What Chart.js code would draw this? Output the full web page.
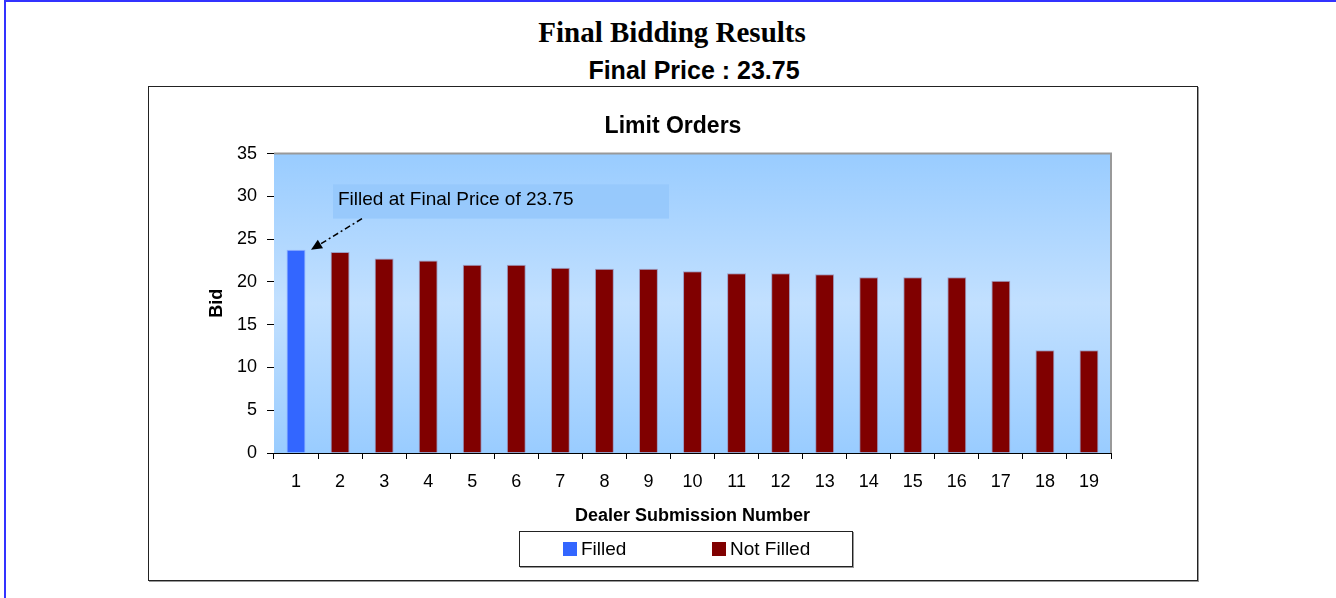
<!DOCTYPE html>
<html>
<head>
<meta charset="utf-8">
<script src="https://cdn.jsdelivr.net/npm/chart.js@4.4.1/dist/chart.umd.min.js"></script>
<style>
  body { margin: 0; background: #fff; width: 1336px; height: 598px; overflow: hidden; position: relative; font-family: "Liberation Sans", Arial, sans-serif; }
  .page-frame { position: absolute; left: 4px; top: 0; width: 1400px; height: 700px; border-top: 2px solid #3333ff; border-left: 2px solid #3333ff; }
  .page-title { position: absolute; left: 672px; top: 18px; transform: translateX(-50%); white-space: nowrap;
    font: bold 29px/29px "Liberation Serif", "Times New Roman", serif; color: #000; }
  .page-subtitle { position: absolute; left: 694px; top: 58px; transform: translateX(-50%); white-space: nowrap;
    font: bold 25px/25px "Liberation Sans", Arial, sans-serif; color: #000; }
  .chart-box { position: absolute; left: 148px; top: 86px; width: 1048px; height: 493px; border: 1px solid #222; box-shadow: 1px 1px 0 #999; }
  .chart-box canvas { display: block; }
  .legend { position: absolute; left: 519px; top: 531px; width: 332px; height: 34px; border: 1px solid #222; box-shadow: 1px 1px 0 #999; background: #fff; }
  .legend-item { position: absolute; top: 0; height: 34px; line-height: 34px; font-size: 19px; color: #000; white-space: nowrap; }
  .legend-item span { display: inline-block; width: 14px; height: 14px; margin-right: 4px; vertical-align: -1px; }
</style>
</head>
<body>
<div class="page-frame"></div>
<div class="page-title">Final Bidding Results</div>
<div class="page-subtitle">Final Price : 23.75</div>
<div class="chart-box"><canvas id="bids" width="1048" height="493"></canvas></div>
<div class="legend" id="legend"></div>

<script>
// dealer submissions, sorted by bid
const submissions = ['1', '2', '3', '4', '5', '6', '7', '8', '9', '10',
                     '11', '12', '13', '14', '15', '16', '17', '18', '19'];
const bids = [23.75, 23.5, 22.75, 22.5, 22, 22, 21.65, 21.55, 21.55, 21.25,
              21, 21, 20.9, 20.55, 20.55, 20.55, 20.15, 12, 12];
const filledCount = 1;
const finalPrice = 23.75;
const yTicks = [0, 5, 10, 15, 20, 25, 30, 35];
const note = 'Filled at Final Price of 23.75';

const filledBids = bids.map((v, i) => (i < filledCount ? v : null));
const notFilledBids = bids.map((v, i) => (i < filledCount ? null : v));

const FONT = '"Liberation Sans", Arial, sans-serif';

// plot background: light blue band in the middle
const plotBackground = {
    id: 'plotBackground',
    beforeDatasetsDraw(chart) {
        const { ctx, chartArea: a } = chart;
        const g = ctx.createLinearGradient(0, a.top, 0, a.bottom);
        g.addColorStop(0, '#99ccff');
        g.addColorStop(0.5, '#c2e0ff');
        g.addColorStop(1, '#99ccff');
        ctx.save();
        ctx.fillStyle = g;
        ctx.fillRect(a.left, a.top, a.right - a.left, a.bottom - a.top);
        ctx.restore();
    },
    afterDraw(chart) {
        const { ctx, chartArea: a } = chart;
        ctx.save();
        ctx.strokeStyle = '#999';
        ctx.lineWidth = 2;
        ctx.beginPath();
        ctx.moveTo(a.left, a.top);
        ctx.lineTo(a.right, a.top);
        ctx.lineTo(a.right, a.bottom);
        ctx.stroke();
        ctx.restore();
    }
};

// callout box + dashed arrow pointing at the filled bar
const filledNote = {
    id: 'filledNote',
    afterDatasetsDraw(chart) {
        const { ctx, chartArea: a } = chart;
        const x = chart.scales.x, y = chart.scales.y;
        const boxL = a.left + 59, boxT = y.getPixelForValue(31.4), boxR = a.left + 395, boxB = y.getPixelForValue(27.4);
        ctx.save();
        ctx.fillStyle = 'rgba(150,200,252,0.9)';
        ctx.fillRect(boxL, boxT, boxR - boxL, boxB - boxT);
        ctx.fillStyle = '#000';
        ctx.font = '19px ' + FONT;
        ctx.textBaseline = 'middle';
        ctx.fillText(note, boxL + 5, (boxT + boxB) / 2 - 2);

        const tipX = x.getPixelForValue(0) + 15, tipY = y.getPixelForValue(finalPrice);
        const tailX = boxL + 29, tailY = boxB;
        const ang = Math.atan2(tipY - tailY, tipX - tailX);
        const len = 11, half = 5;
        const baseX = tipX - len * Math.cos(ang), baseY = tipY - len * Math.sin(ang);
        ctx.strokeStyle = '#000';
        ctx.lineWidth = 1.5;
        ctx.setLineDash([6, 3, 2, 3]);
        ctx.beginPath();
        ctx.moveTo(tailX, tailY);
        ctx.lineTo(baseX, baseY);
        ctx.stroke();
        ctx.setLineDash([]);
        ctx.beginPath();
        ctx.moveTo(tipX, tipY);
        ctx.lineTo(baseX + half * Math.sin(ang), baseY - half * Math.cos(ang));
        ctx.lineTo(baseX - half * Math.sin(ang), baseY + half * Math.cos(ang));
        ctx.closePath();
        ctx.fill();
        ctx.restore();
    }
};

const chart = new Chart(document.getElementById('bids'), {
    type: 'bar',
    data: {
        labels: submissions,
        datasets: [{
            label: 'Filled',
            data: filledBids,
            backgroundColor: '#3366ff',
            borderColor: 'rgba(140,170,255,0.9)',
            borderWidth: 1
        }, {
            label: 'Not Filled',
            data: notFilledBids,
            backgroundColor: '#800000',
            borderColor: 'rgba(150,140,180,0.8)',
            borderWidth: 1
        }]
    },
    options: {
        responsive: false,
        animation: false,
        devicePixelRatio: 1,
        categoryPercentage: 1,
        barPercentage: 0.43,
        layout: { padding: { left: 0, right: 0, top: 0, bottom: 50 } },
        plugins: {
            legend: { display: false },
            tooltip: { enabled: false },
            title: {
                display: true,
                text: 'Limit Orders',
                color: '#000',
                font: { family: FONT, size: 23, weight: 'bold' },
                padding: { top: 26, bottom: 13 }
            }
        },
        scales: {
            x: {
                stacked: true,
                grid: { drawOnChartArea: false, tickLength: 6, color: '#000', offset: true },
                border: { color: '#000', width: 1 },
                ticks: { color: '#000', font: { family: FONT, size: 18 }, padding: 12, maxRotation: 0 },
                title: {
                    display: true,
                    text: 'Dealer Submission Number',
                    color: '#000',
                    font: { family: FONT, size: 18, weight: 'bold' },
                    padding: { top: 4, bottom: 3 }
                },
                afterFit(scale) { scale.height = 77; }
            },
            y: {
                stacked: true,
                min: 0,
                max: 35,
                afterBuildTicks(scale) { scale.ticks = yTicks.map(v => ({ value: v })); },
                grid: { drawOnChartArea: false, tickLength: 7, color: '#000' },
                border: { color: '#000', width: 1 },
                ticks: { color: '#000', font: { family: FONT, size: 18 }, padding: 10 },
                title: {
                    display: true,
                    text: 'Bid',
                    color: '#000',
                    font: { family: FONT, size: 18, weight: 'bold' },
                    padding: { top: 57, bottom: 0 }
                },
                afterFit(scale) { scale.width = 125; }
            },
            // empty right-hand gutter so the title stays centred on the box
            gutter: {
                position: 'right',
                min: 0,
                max: 1,
                grid: { display: false },
                border: { display: false },
                ticks: { display: false },
                afterFit(scale) { scale.width = 86; }
            }
        }
    },
    plugins: [plotBackground, filledNote]
});

// legend in its own bordered box below the chart
const legendEl = document.getElementById('legend');
const legendLeft = [43, 192];
chart.data.datasets.forEach(function (ds, i) {
    const item = document.createElement('div');
    item.className = 'legend-item';
    item.style.left = legendLeft[i] + 'px';
    const sw = document.createElement('span');
    sw.style.background = ds.backgroundColor;
    item.appendChild(sw);
    item.appendChild(document.createTextNode(ds.label));
    legendEl.appendChild(item);
});
</script>
</body>
</html>
